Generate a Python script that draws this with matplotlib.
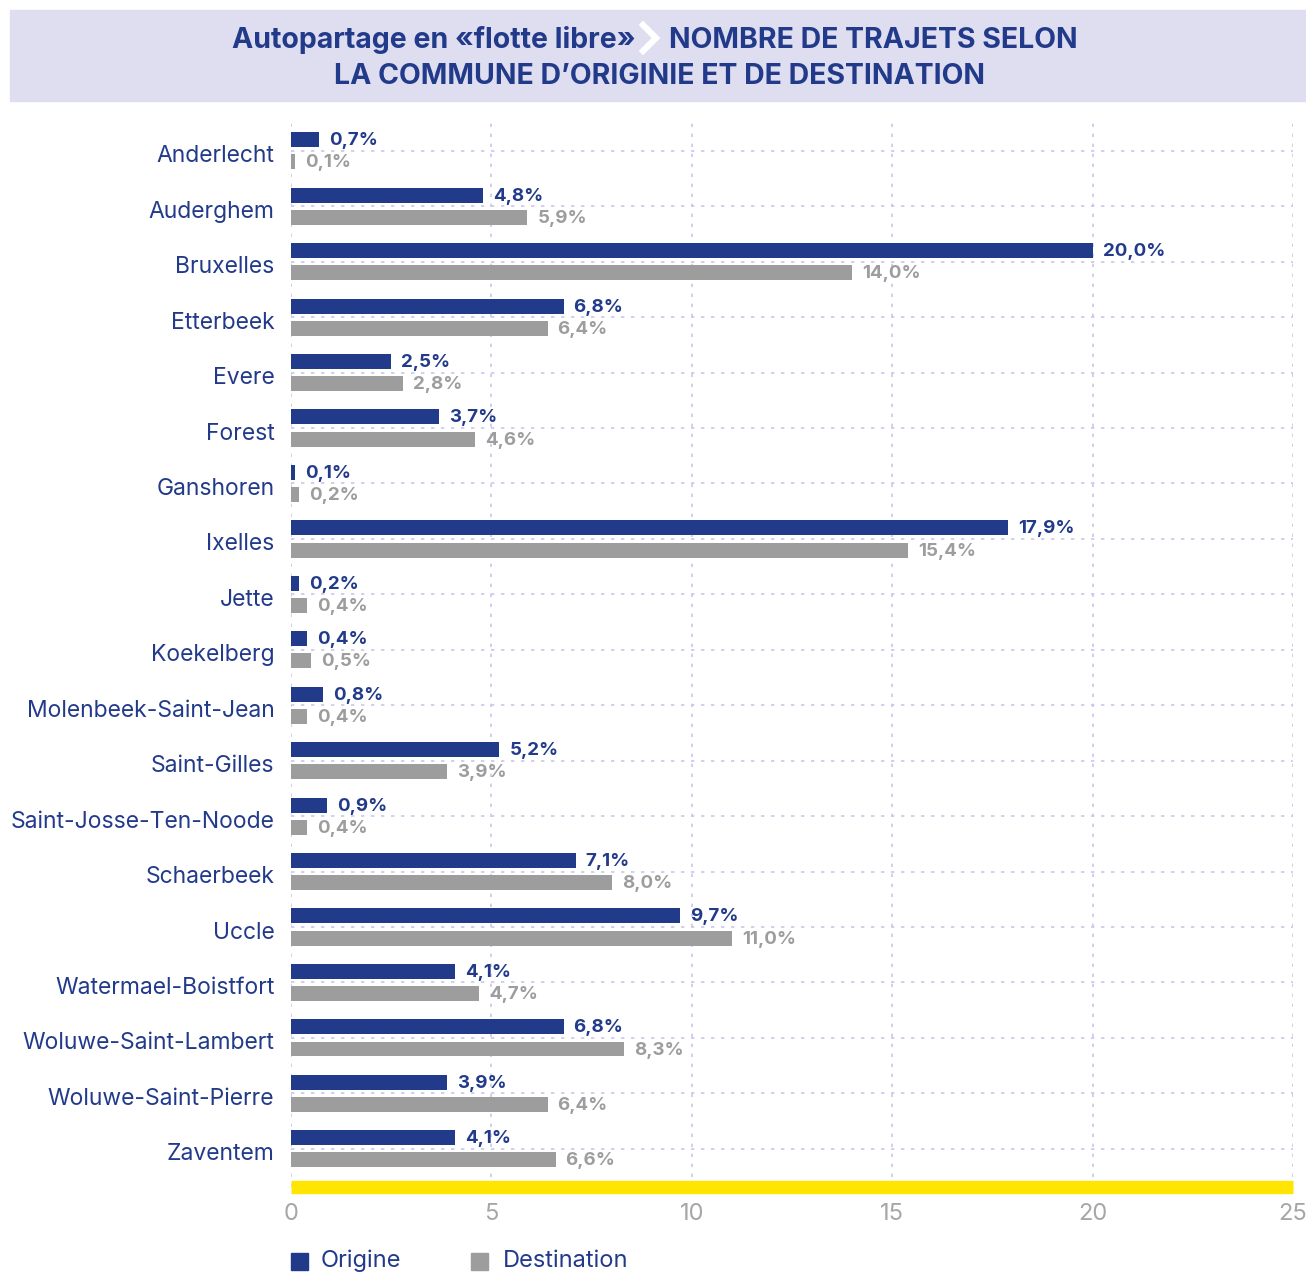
import numpy as np
import matplotlib.pyplot as plt
import matplotlib.transforms as mtransforms
from matplotlib.patches import Rectangle
from matplotlib.lines import Line2D

communes = ['Anderlecht', 'Auderghem', 'Bruxelles', 'Etterbeek', 'Evere', 'Forest',
            'Ganshoren', 'Ixelles', 'Jette', 'Koekelberg', 'Molenbeek-Saint-Jean',
            'Saint-Gilles', 'Saint-Josse-Ten-Noode', 'Schaerbeek', 'Uccle',
            'Watermael-Boistfort', 'Woluwe-Saint-Lambert', 'Woluwe-Saint-Pierre', 'Zaventem']
origine = [0.7, 4.8, 20.0, 6.8, 2.5, 3.7, 0.1, 17.9, 0.2, 0.4, 0.8, 5.2, 0.9, 7.1, 9.7, 4.1, 6.8, 3.9, 4.1]
destination = [0.1, 5.9, 14.0, 6.4, 2.8, 4.6, 0.2, 15.4, 0.4, 0.5, 0.4, 3.9, 0.4, 8.0, 11.0, 4.7, 8.3, 6.4, 6.6]
xticks = [0, 5, 10, 15, 20, 25]

BLUE = '#223a8a'
GRAY = '#9e9d9e'
TITLE_BG = '#dfdef0'
GRID = '#c9c8ea'
YELLOW = '#ffe500'
FONT = 'Inter'

W, H = 1306, 1272
fig = plt.figure(figsize=(W / 100, H / 100), dpi=100)

# axes placement in pixels
left, right, top, bottom = 291, 1293, 122, 1186.5
ax = fig.add_axes([left / W, 1 - bottom / H, (right - left) / W, (bottom - top) / H])

y = np.arange(len(communes))
off, bh = 0.2, 0.27
ax.barh(y - off, origine, height=bh, color=BLUE, zorder=3)
ax.barh(y + off, destination, height=bh, color=GRAY, zorder=3)

def fmt(v):
    return f'{v:.1f}%'.replace('.', ',')

for i in range(len(communes)):
    ax.annotate(fmt(origine[i]), (origine[i], y[i] - off), xytext=(10, -1), textcoords='offset pixels',
                va='center', ha='left', color=BLUE, fontsize=13.5, fontweight='bold', family=FONT)
    ax.annotate(fmt(destination[i]), (destination[i], y[i] + off), xytext=(10, -1), textcoords='offset pixels',
                va='center', ha='left', color=GRAY, fontsize=13.5, fontweight='bold', family=FONT)

ax.set_xlim(0, 25)
ax.set_ylim(18.68, -0.52)
ax.set_yticks(y)
ax.set_yticklabels(communes, fontsize=16.5, color=BLUE, family=FONT)
ax.set_xticks(xticks)
ax.set_xticklabels([str(t) for t in xticks], fontsize=17, color='#a6a6a6', family=FONT)
ax.tick_params(axis='both', length=0)
ax.tick_params(axis='y', pad=12)
ax.tick_params(axis='x', pad=12)
# nudge the commune names a little lower, like the original
shift = mtransforms.ScaledTranslation(0, -3 / 100, fig.dpi_scale_trans)
for lab in ax.get_yticklabels():
    lab.set_transform(lab.get_transform() + shift)
ax.grid(True, color=GRID, linestyle=(0, (2, 4)), linewidth=1.2, zorder=0)
for s in ['top', 'left', 'right']:
    ax.spines[s].set_visible(False)
ax.spines['bottom'].set_color(YELLOW)
ax.spines['bottom'].set_linewidth(9.6)
ax.spines['bottom'].set_capstyle('butt')
ax.spines['bottom'].set_zorder(4)

# title banner
fig.patches.append(Rectangle((10 / W, 1 - 101 / H), (W - 10) / W, 91 / H, transform=fig.transFigure,
                             color=TITLE_BG, zorder=0))
fig.text(636 / W, 1 - 40 / H, 'Autopartage en «flotte libre»', ha='right', va='center',
         fontsize=20.5, fontweight='bold', color=BLUE, family=FONT)
fig.add_artist(Line2D([643 / W, 656 / W, 643 / W], [1 - 25 / H, 1 - 38 / H, 1 - 51 / H],
                      transform=fig.transFigure, color='white', linewidth=4.5,
                      solid_joinstyle='miter'))
fig.text(669 / W, 1 - 40 / H, 'NOMBRE DE TRAJETS SELON', ha='left', va='center',
         fontsize=20.5, fontweight='bold', color=BLUE, family=FONT)
fig.text(660 / W, 1 - 77 / H, 'LA COMMUNE D’ORIGINIE ET DE DESTINATION', ha='center', va='center',
         fontsize=20.5, fontweight='bold', color=BLUE, family=FONT)

# legend
fig.patches.append(Rectangle((291 / W, 1 - 1270 / H), 17 / W, 17 / H, transform=fig.transFigure, color=BLUE))
fig.text(321 / W, 1 - 1261 / H, 'Origine', ha='left', va='center', fontsize=17, color=BLUE, family=FONT)
fig.patches.append(Rectangle((471 / W, 1 - 1270 / H), 17 / W, 17 / H, transform=fig.transFigure, color=GRAY))
fig.text(503 / W, 1 - 1261 / H, 'Destination', ha='left', va='center', fontsize=17, color=BLUE, family=FONT)

fig.savefig('out.png', dpi=100)
